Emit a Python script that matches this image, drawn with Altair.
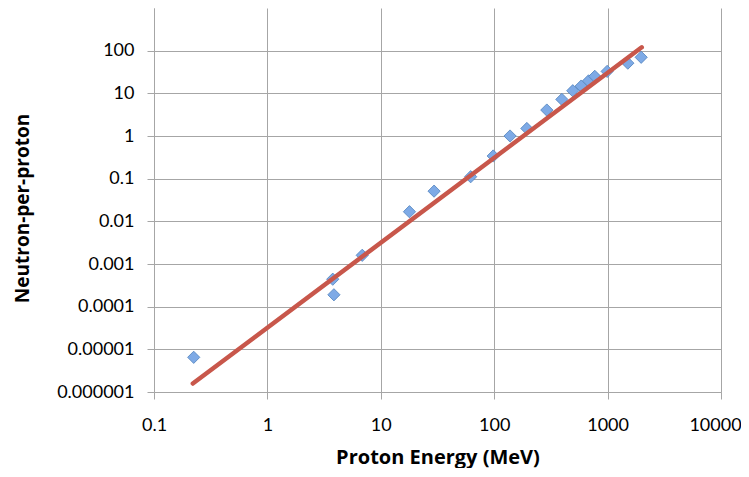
import altair as alt
import pandas as pd

# Measured data points (Proton energy in MeV, neutrons per proton)
energy = [0.224, 3.77, 3.86, 6.86, 17.9, 29.5, 62, 98, 138, 194, 291, 395, 493, 585, 679, 771, 991, 1507, 1977]
neutrons = [6.5e-6, 4.4e-4, 1.9e-4, 1.6e-3, 0.0168, 0.051, 0.111, 0.34, 1.0, 1.5, 4.06, 7.2, 11.5, 14.8, 19.6, 25, 32.7, 51, 70]

# Power-law trend line endpoints
fit_energy = [0.22, 2000]
fit_neutrons = [1.58e-6, 120]

x_ticks = [0.1, 1, 10, 100, 1000, 10000]
y_ticks = [1e-6, 1e-5, 1e-4, 1e-3, 1e-2, 0.1, 1, 10, 100]

pts = pd.DataFrame({"e": energy, "n": neutrons})
fit = pd.DataFrame({"e": fit_energy, "n": fit_neutrons})

FONT = "Lato"
TFONT = "Open Sans"
GRID = "#a6a6a6"

xscale = alt.Scale(type="log", domain=[0.1, 10000], nice=False)
yscale = alt.Scale(type="log", domain=[1e-6, 1000], nice=False)

xaxis = alt.Axis(values=x_ticks, format=".6~f", title="Proton Energy (MeV)",
                 grid=True, gridColor=GRID, domainColor=GRID, tickColor=GRID,
                 tickSize=7, labelPadding=17, labelFontSize=18, labelFont=FONT,
                 labelColor="#000000", titleFont=TFONT, titleFontSize=20,
                 titleFontWeight="bold", titleColor="#000000", titlePadding=13,
                 labelOffset={"condition": {"test": "datum.value >= 10000", "value": -6}, "value": 0},
                 labelFlush=False, labelOverlap=False)
yaxis = alt.Axis(values=y_ticks, format=".6~f", title="Neutron-per-proton",
                 grid=True, gridColor=GRID, domainColor=GRID, tickColor=GRID,
                 tickSize=7, labelPadding=13, labelFontSize=18, labelFont=FONT,
                 labelColor="#000000", titleFont=TFONT, titleFontSize=19,
                 titleFontWeight="bold", titleColor="#000000",
                 titleX=-132, titleY=200, titleAlign="center", titleBaseline="middle",
                 titleAngle=270, labelFlush=False, labelOverlap=False)

points = alt.Chart(pts).mark_point(shape="diamond", filled=True, size=150,
                                   fill="#7eaae6", stroke="#4f81bd", strokeWidth=0.8,
                                   opacity=1).encode(
    x=alt.X("e:Q", scale=xscale, axis=xaxis),
    y=alt.Y("n:Q", scale=yscale, axis=yaxis),
)

line = alt.Chart(fit).mark_line(color="#c8574b", strokeWidth=4.5, strokeCap="round").encode(
    x=alt.X("e:Q", scale=xscale),
    y=alt.Y("n:Q", scale=yscale),
)

chart = alt.layer(points, line).properties(
    width=567, height=384,
    autosize=alt.AutoSizeParams(type="none"),
    padding={"left": 146, "top": 0, "right": 20, "bottom": 76},
    background="white",
).configure_view(stroke=None)

chart.save("out.html", embed_options={"renderer": "svg", "actions": False})
